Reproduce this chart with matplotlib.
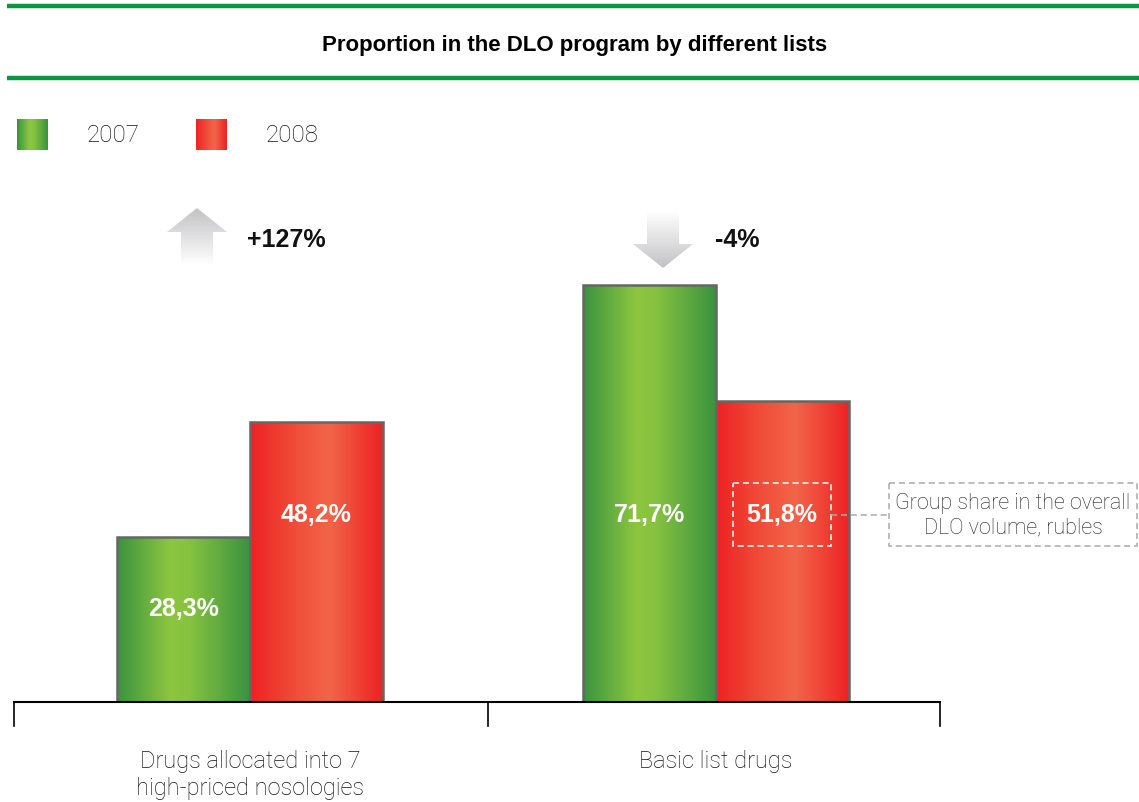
import numpy as np
import matplotlib
matplotlib.use("Agg")
import matplotlib.pyplot as plt
from matplotlib.patches import Rectangle, Polygon
from matplotlib.colors import LinearSegmentedColormap

# Data
categories = ["Drugs allocated into 7\nhigh-priced nosologies", "Basic list drugs"]
years = ["2007", "2008"]
share_2007 = [28.3, 71.7]
share_2008 = [48.2, 51.8]
changes = ["+127%", "-4%"]
title = "Proportion in the DLO program by different lists"
note = "Group share in the overall\nDLO volume, rubles"

W, H = 1139, 803
fig = plt.figure(figsize=(W / 100, H / 100), dpi=100)

LIGHT = dict(family=["Roboto", "Liberation Sans", "DejaVu Sans"], weight="light")
BOLD = dict(family=["Liberation Sans", "DejaVu Sans"], weight="bold")
NARROW_BOLD = dict(family=["Liberation Sans Narrow", "Liberation Sans", "DejaVu Sans"], weight="bold")
TEXT_DARK = "#141414"

green_cmap = LinearSegmentedColormap.from_list(
    "g", [(0, "#3a9340"), (0.4, "#8dc63f"), (0.55, "#86c23f"), (1, "#3a9340")])
red_cmap = LinearSegmentedColormap.from_list(
    "r", [(0, "#ed2224"), (0.35, "#f04e39"), (0.6, "#f26549"), (1, "#ed2224")])
grad = np.linspace(0, 1, 256).reshape(1, -1)

# Main plotting area
px = 5.816  # pixels per percentage point
ax_top_px = 203
base_px = 703
ax = fig.add_axes([14 / W, (H - base_px) / H, (940 - 14) / W, (base_px - ax_top_px) / H])
x_left, x_right = -0.506, 1.481
ax.set_xlim(x_left, x_right)
ax.set_ylim(0, (base_px - ax_top_px) / px)
ax.axis("off")
ax.patch.set_visible(False)

width = 0.285
x = np.arange(len(categories))

def gradient_bar(xc, h, cmap):
    rect = Rectangle((xc, 0), width, h, facecolor="none", edgecolor="#666666",
                     linewidth=1.8, zorder=3)
    ax.add_patch(rect)
    im = ax.imshow(grad, cmap=cmap, extent=(xc, xc + width, 0, h),
                   aspect="auto", zorder=2, interpolation="bilinear")
    im.set_clip_path(rect)

for i in range(len(categories)):
    gradient_bar(x[i] - width, share_2007[i], green_cmap)
    gradient_bar(x[i], share_2008[i], red_cmap)

ax.set_xlim(x_left, x_right)
ax.set_ylim(0, (base_px - ax_top_px) / px)

label_y = (base_px - 515) / px
for i in range(len(categories)):
    for xc, v in ((x[i] - width / 2, share_2007[i]), (x[i] + width / 2, share_2008[i])):
        y = label_y if v > label_y + 6 else v / 2 + 2.0
        ax.text(xc, y, f"{v:.1f}%".replace(".", ","), color="white", fontsize=18,
                ha="center", va="center", zorder=4, **BOLD)

# Baseline and group separators
tr = ax.get_xaxis_transform()
ax.plot([x_left, x_right], [0, 0], transform=tr, color="black", lw=1.5, clip_on=False, zorder=5)
for xb in (x_left, 0.511, x_right):
    ax.plot([xb, xb], [0, -24 / (base_px - ax_top_px)], transform=tr, color="black",
            lw=1.2, clip_on=False)
for i, cat in enumerate(categories):
    ax.text(x[i], -47 / (base_px - ax_top_px), cat, transform=tr, ha="center", va="top",
            fontsize=17, color=TEXT_DARK, linespacing=1.25, **LIGHT)

# Overlay in pixel coordinates for header, legend and callouts
ov = fig.add_axes([0, 0, 1, 1], zorder=10)
ov.axis("off")
ov.patch.set_visible(False)

for yl in (7, 79):
    ov.plot([7, W], [yl, yl], color="#0a963c", lw=3.2, solid_capstyle="butt")
ov.text(575, 46, title, ha="center", va="center", fontsize=16, color="black", **NARROW_BOLD)

# Legend
for lx, tx, cmap, lab in ((17, 87, green_cmap, years[0]), (196, 266, red_cmap, years[1])):
    r = Rectangle((lx, 120), 31, 31, facecolor="none", edgecolor="none")
    ov.add_patch(r)
    im = ov.imshow(grad, cmap=cmap, extent=(lx, lx + 31, 151, 120), aspect="auto",
                   interpolation="bilinear")
    im.set_clip_path(r)
    ov.text(tx, 136, lab, ha="left", va="center", fontsize=17.5, color=TEXT_DARK, **LIGHT)

# Change arrows (grey fading to white away from the head)
arrow_cmap = LinearSegmentedColormap.from_list("a", ["#c2c2c4", "#ffffff"])
vgrad = np.linspace(0, 1, 256).reshape(-1, 1)

up = Polygon([(197, 209), (227, 233), (213, 233), (213, 266), (181, 266),
              (181, 233), (167, 233)], closed=True, facecolor="none", edgecolor="none")
ov.add_patch(up)
im = ov.imshow(vgrad[::-1], cmap=arrow_cmap, extent=(167, 227, 209, 266), aspect="auto",
               interpolation="bilinear")
im.set_clip_path(up)

down = Polygon([(647, 212), (679, 212), (679, 245), (693, 245), (663, 269),
                (633, 245), (647, 245)], closed=True, facecolor="none", edgecolor="none")
ov.add_patch(down)
im = ov.imshow(vgrad, cmap=arrow_cmap, extent=(633, 693, 212, 269), aspect="auto",
               interpolation="bilinear")
im.set_clip_path(down)

ov.text(247, 240, changes[0], ha="left", va="center", fontsize=18, color="#111111", **BOLD)
ov.text(715, 240, changes[1], ha="left", va="center", fontsize=18, color="#111111", **BOLD)
ov.set_xlim(0, W)
ov.set_ylim(H, 0)

# Callout for the share label
ov.add_patch(Rectangle((733, 484), 98, 63, facecolor="none", edgecolor="white",
                       lw=1.1, ls=(0, (4, 2.5))))
ov.plot([831, 889], [516, 516], color="#aaaaaa", lw=1.1, ls=(0, (4, 2.5)))
ov.add_patch(Rectangle((889, 484), 248, 63, facecolor="none", edgecolor="#aaaaaa",
                       lw=1.1, ls=(0, (4, 2.5))))
ov.text(1013, 516, note, ha="center", va="center", fontsize=15.5, color="#222222",
        linespacing=1.2, **LIGHT)

fig.savefig("out.png", dpi=100)
